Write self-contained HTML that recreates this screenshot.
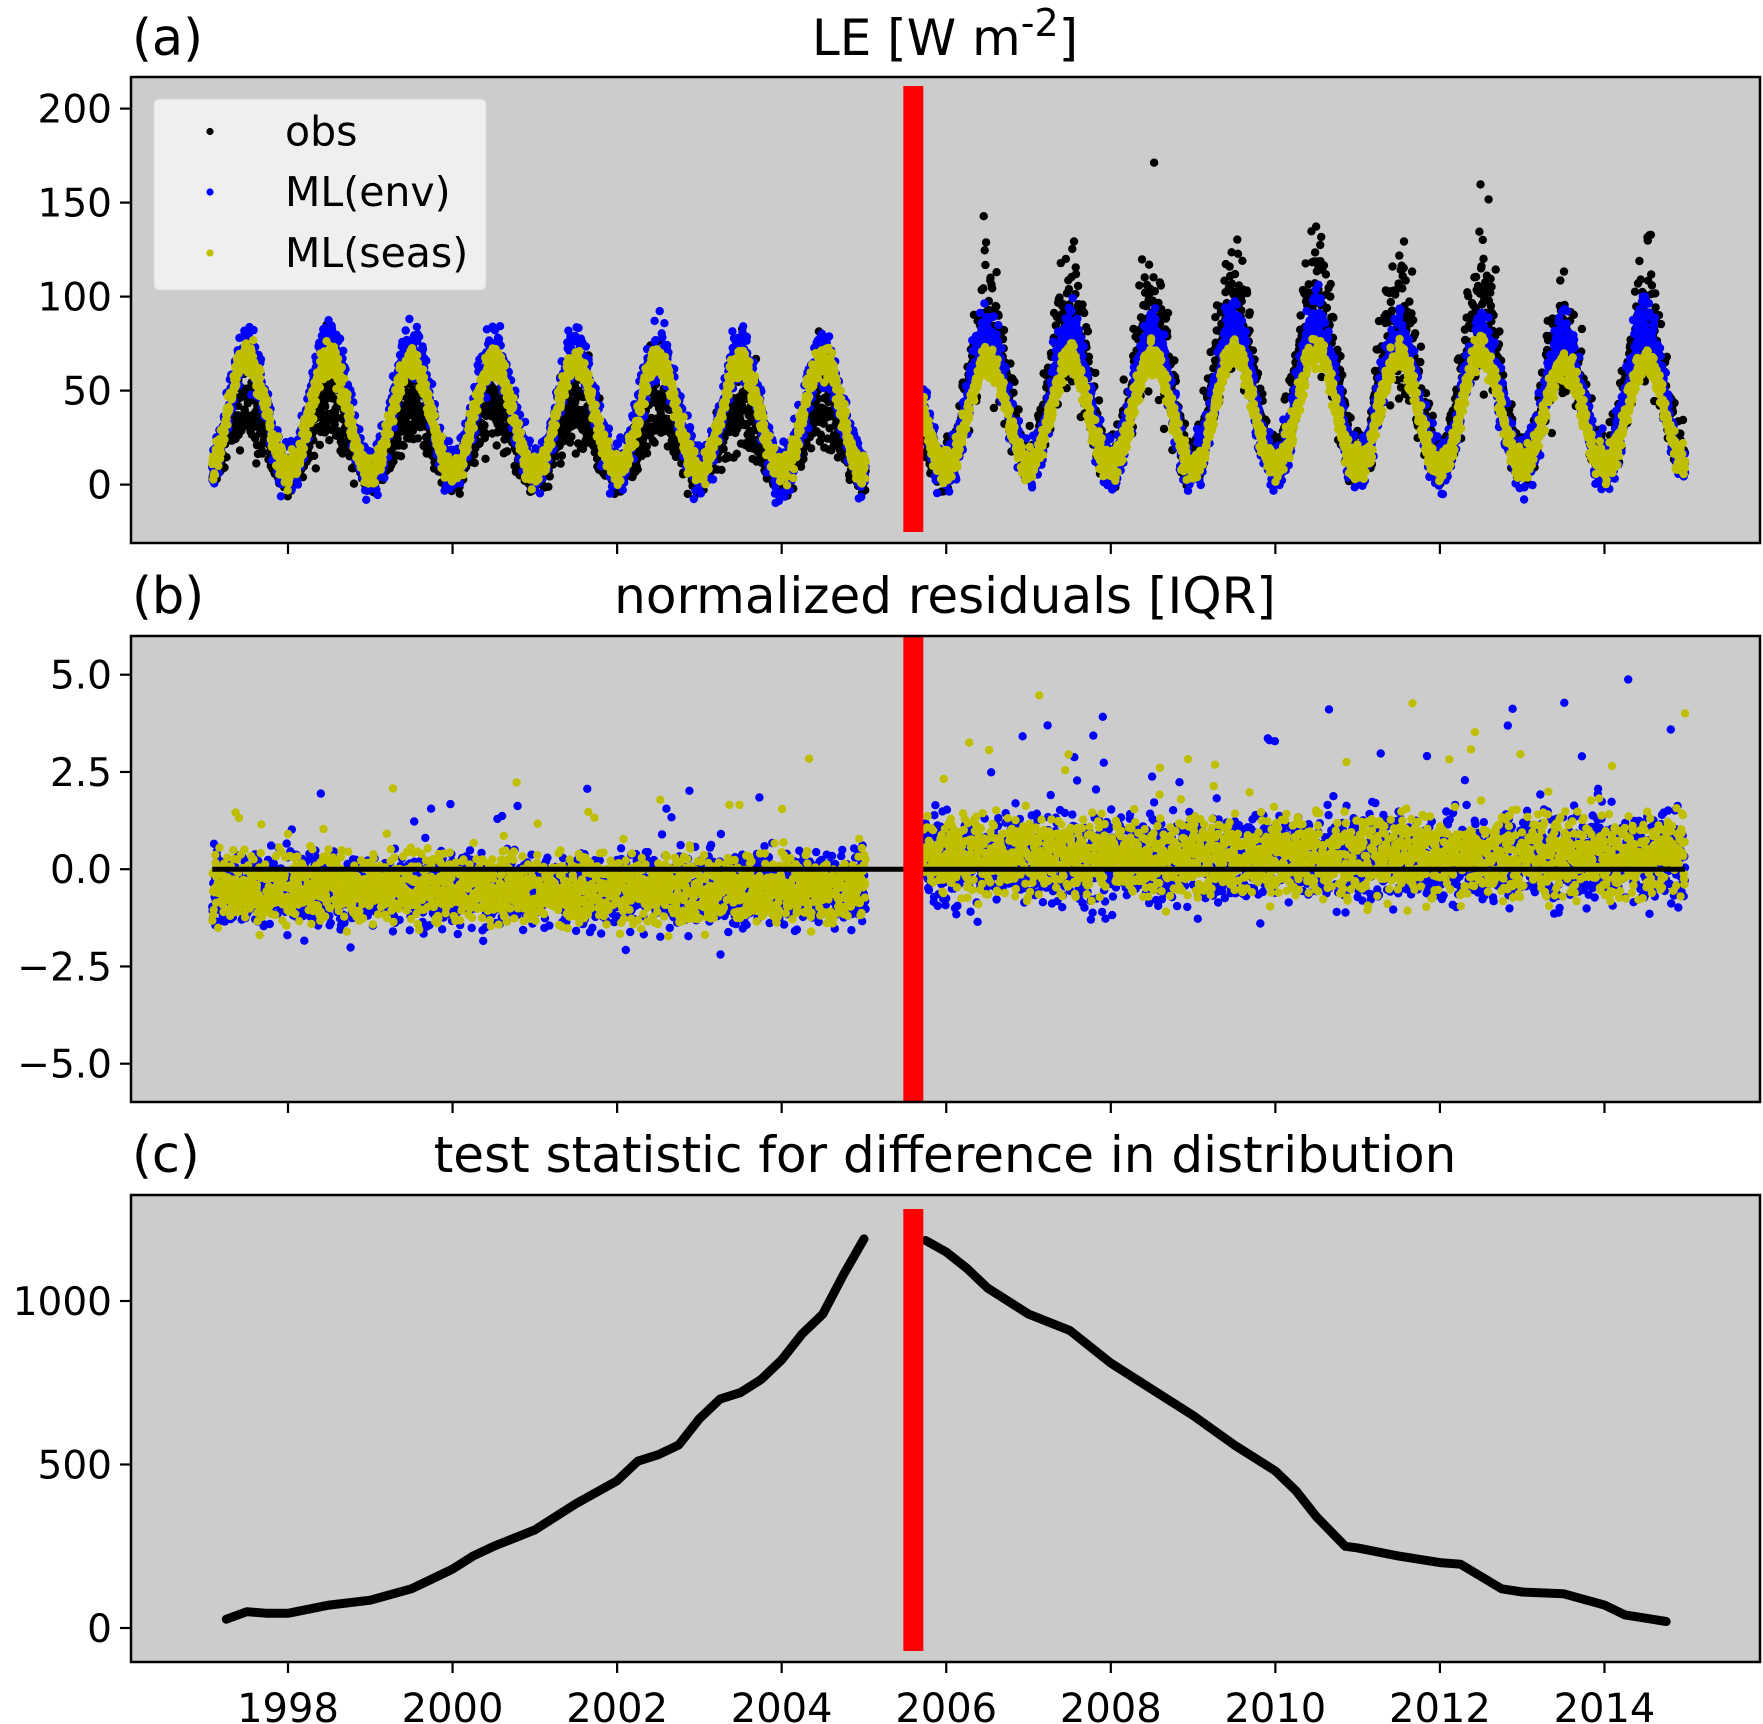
<!DOCTYPE html>
<html><head><meta charset="utf-8"><style>
html,body{margin:0;padding:0;background:#fff}
svg{display:block}
text{font-family:"DejaVu Sans","Liberation Sans",sans-serif;fill:#000}
</style></head><body>
<svg id="fig" width="1763" height="1724" viewBox="0 0 1763 1724" xmlns="http://www.w3.org/2000/svg"></svg>
<script>
// ---- data ----
const xTickYears = [1998,2000,2002,2004,2006,2008,2010,2012,2014];
const aTicks = [0,50,100,150,200];
const bTicks = [-5.0,-2.5,0.0,2.5,5.0];
const cTicks = [0,500,1000];
const breakYear = 2005.6;
const periodStart = [1997.08, 2005.72];
const periodEnd = [2005.02, 2014.98];
const peakYears = [1997,1998,1999,2000,2001,2002,2003,2004,2005,2006,2007,2008,2009,2010,2011,2012,2013,2014];
const seasPeak = [68,66,66,66,66,66,64,66,66,66,66,68,70,72,68,70,64,66];
const envPeak  = [72,76,74,70,70,72,70,68,70,80,82,80,86,88,80,82,78,84];
const obsScale = [0.6,0.65,0.62,0.62,0.62,0.62,0.62,0.62,0.62,1.3,1.35,1.3,1.4,1.45,1.3,1.35,1.25,1.35];
const troughVal = [8,8,8,8,8,8,8,8,8,10,10,10,10,10,10,10,10,10];
const residMean = [-0.5, 0.3];
const residSpread = [0.6, 0.7];
const cYears = [1997.25,1997.5,1997.75,1998,1998.5,1999,1999.5,1999.75,2000,2000.25,2000.5,2001,2001.5,2002,2002.25,2002.5,2002.75,2003,2003.25,2003.5,2003.75,2004,2004.25,2004.5,2004.75,2005.0];
const cVals  = [27,50,45,45,70,85,120,150,180,220,250,300,380,450,510,530,560,640,700,720,760,820,900,960,1080,1190];
const cYears2 = [2005.75,2006,2006.25,2006.5,2007,2007.5,2008,2008.5,2009,2009.5,2010,2010.25,2010.5,2010.85,2011,2011.5,2012,2012.25,2012.75,2013,2013.5,2014,2014.25,2014.75];
const cVals2  = [1185,1150,1100,1040,960,910,810,730,650,560,480,420,340,250,245,220,200,195,120,110,105,70,40,20];

const NS='http://www.w3.org/2000/svg';
const svg=document.getElementById('fig');
function mk(tag,attrs,parent){const e=document.createElementNS(NS,tag);for(const k in attrs)e.setAttribute(k,attrs[k]);(parent||svg).appendChild(e);return e;}
const L=131,R=1760;
const X=y=>288+(y-1998)*82.28;
const panels=[
 {top:77,bot:543,y:v=>484.6-v*1.88},
 {top:636,bot:1102,y:v=>869.2-v*38.9},
 {top:1195,bot:1662,y:v=>1628-v*0.327}
];
let seed=987654321;
function rnd(){seed|=0;seed=seed+0x6D2B79F5|0;let t=Math.imul(seed^seed>>>15,1|seed);t=t+Math.imul(t^t>>>7,61|t)^t;return((t^t>>>14)>>>0)/4294967296;}
function gauss(){return (rnd()+rnd()+rnd()+rnd()-2)*1.2;}

panels.forEach((p,i)=>{
  const bg=mk('rect',{x:L,y:p.top,width:R-L,height:p.bot-p.top,fill:'#cccccc'});
  
  
});
const clips=mk('defs',{});
panels.forEach((p,i)=>{const c=mk('clipPath',{id:'cp'+i},clips);mk('rect',{x:L,y:p.top,width:R-L,height:p.bot-p.top},c);});

const gA=mk('g',{'clip-path':'url(#cp0)'});
const gB=mk('g',{'clip-path':'url(#cp1)'});
const obsPts=[],envPts=[],seasPts=[],rEnv=[],rSeas=[];
for(let per=0;per<2;per++){
  for(let t=periodStart[per];t<periodEnd[per];t+=1.5/365){
    const yi=Math.min(peakYears.length-1,Math.max(0,Math.floor(t)-1997));
    const ph=t-Math.floor(t);
    const s=Math.pow(0.5-0.5*Math.cos(2*Math.PI*ph),1.1);
    const tr=troughVal[yi];
    const seas=tr+(seasPeak[yi]-tr)*s+gauss()*6;
    const env=tr+(envPeak[yi]-tr)*s+gauss()*10;
    let obs=seas*obsScale[yi]+gauss()*(5+14*s*obsScale[yi]);
    if(rnd()<0.04)obs+=(per?50:25)*rnd()*(0.3+s);
    obsPts.push([t,obs]);envPts.push([t,env]);seasPts.push([t,seas]);
    rEnv.push([t,residMean[per]+gauss()*residSpread[per]*1.1+(rnd()<0.03?(rnd()*(per?5:3.5)-1):0)]);
    rSeas.push([t,residMean[per]+gauss()*residSpread[per]+(rnd()<0.02?rnd()*(per?3.5:2.5):0)]);
  }
}
function dots(pts,g,p,col,name){pts.forEach(d=>{const c=mk('circle',{cx:X(d[0]).toFixed(1),cy:p.y(d[1]).toFixed(1),r:4.2,fill:col},g);});}
dots(obsPts,gA,panels[0],'#000','obs-point');
dots(envPts,gA,panels[0],'#0000ff','ml-env-point');
dots(seasPts,gA,panels[0],'#bfbf00','ml-seas-point');
dots(rEnv,gB,panels[1],'#0000ff','ml-env-residual');
dots(rSeas,gB,panels[1],'#bfbf00','ml-seas-residual');
const zl=mk('line',{x1:X(1997.08),x2:X(2014.98),y1:panels[1].y(0),y2:panels[1].y(0),stroke:'#000','stroke-width':5});


const gC=mk('g',{'clip-path':'url(#cp2)'});
[[cYears,cVals],[cYears2,cVals2]].forEach((s,k)=>{
  const d=s[0].map((y,j)=>(j?'L':'M')+X(y).toFixed(1)+','+panels[2].y(s[1][j]).toFixed(1)).join(' ');
  const pth=mk('path',{d:d,fill:'none',stroke:'#000','stroke-width':9,'stroke-linejoin':'round','stroke-linecap':'round'},gC);
  
});

[[86,532],[636,1102],[1209,1651]].forEach((r,i)=>{
  const b=mk('rect',{x:X(breakYear)-10,y:r[0],width:20,height:r[1]-r[0],fill:'#ff0000'});
  
});

const ytick=[aTicks,bTicks,cTicks];
panels.forEach((p,i)=>{
  const f=mk('rect',{x:L,y:p.top,width:R-L,height:p.bot-p.top,fill:'none',stroke:'#000','stroke-width':2.5});
  
  ytick[i].forEach(v=>{
    const yy=p.y(v);
    mk('line',{x1:L-11,x2:L,y1:yy,y2:yy,stroke:'#000','stroke-width':2.2});
    const t=mk('text',{x:L-19,y:yy+14,'text-anchor':'end','font-size':39});
    t.textContent=(i===1?v.toFixed(1):String(v)).replace('-','\u2212');
    
  });
  xTickYears.forEach(y=>{
    mk('line',{x1:X(y),x2:X(y),y1:p.bot,y2:p.bot+11,stroke:'#000','stroke-width':2.2});
    if(i===2){const t=mk('text',{x:X(y),y:1722,'text-anchor':'middle','font-size':40});t.textContent=y;
      }
  });
});
const titles=[['(a)',55,'LE [W m',55],['(b)',613,'normalized residuals [IQR]',613],['(c)',1172,'test statistic for difference in distribution',1172]];
titles.forEach((tt,i)=>{
  const a=mk('text',{x:132,y:tt[1],'font-size':51});a.textContent=tt[0];
  
  const m=mk('text',{x:945,y:tt[3],'text-anchor':'middle','font-size':50});
  if(i===0){m.textContent='LE [W m';const sp=mk('tspan',{dy:-19,'font-size':38},m);sp.textContent='-2';const sp2=mk('tspan',{dy:19},m);sp2.textContent=']';}
  else m.textContent=tt[2];
  
});
const lg=mk('g',{});
mk('rect',{x:154,y:99,width:332,height:191,rx:5,fill:'#f2f2f2','fill-opacity':0.92,stroke:'#d8d8d8'},lg);
[['obs','#000',131.5],['ML(env)','#0000ff',192],['ML(seas)','#bfbf00',253]].forEach(e=>{
  const c=mk('circle',{cx:210,cy:e[2],r:3.6,fill:e[1]},lg);
  const t=mk('text',{x:285,y:e[2]+14,'font-size':41},lg);t.textContent=e[0];
  
});
</script>
</body></html>
